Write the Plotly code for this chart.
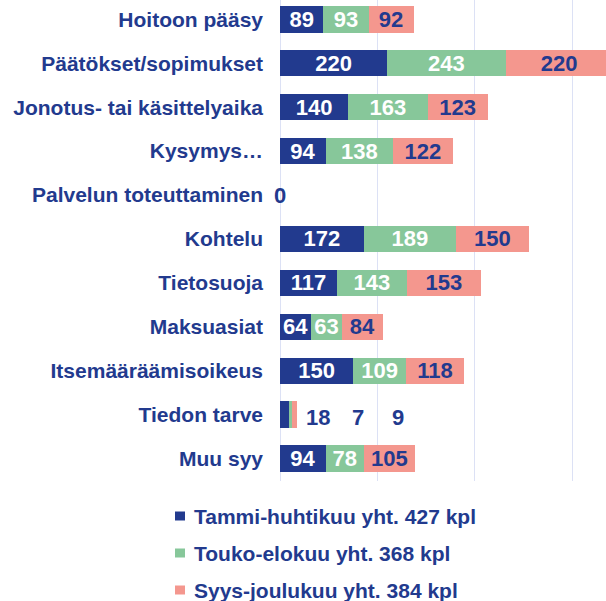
import plotly.graph_objects as go

categories = ["Hoitoon pääsy", "Päätökset/sopimukset", "Jonotus- tai käsittelyaika",
              "Kysymys…", "Palvelun toteuttaminen", "Kohtelu", "Tietosuoja",
              "Maksuasiat", "Itsemääräämisoikeus", "Tiedon tarve", "Muu syy"]
tammi_huhti = [89, 220, 140, 94, 0, 172, 117, 64, 150, 18, 94]
touko_elo = [93, 243, 163, 138, 0, 189, 143, 63, 109, 7, 78]
syys_joulu = [92, 220, 123, 122, 0, 150, 153, 84, 118, 9, 105]
series_names = ["Tammi-huhtikuu yht. 427 kpl", "Touko-elokuu yht. 368 kpl",
                "Syys-joulukuu yht. 384 kpl"]

NAVY = "#223A8E"
GREEN = "#87C79A"
SALMON = "#F4978E"
GRID = "#DCE1F5"
FONT = "Liberation Sans"

W, H = 606, 601
ML, MB = 280, 120
PW, PH = W - ML, H - MB

series = [tammi_huhti, touko_elo, syys_joulu]
colors = [NAVY, GREEN, SALMON]
text_colors = ["white", "white", NAVY]

totals = [sum(v) for v in zip(*series)]
SMALL = 50  # rows with tiny totals get labels outside the bars

fig = go.Figure()
for name, vals, col, tcol in zip(series_names, series, colors, text_colors):
    txt = [str(v) if t >= SMALL else "" for v, t in zip(vals, totals)]
    fig.add_trace(go.Bar(
        y=categories, x=vals, name=name, orientation="h",
        marker=dict(color=col, line=dict(width=0)),
        text=txt, textposition="inside", insidetextanchor="middle",
        constraintext="none", textangle=0,
        insidetextfont=dict(family=FONT, size=22, color=tcol, weight="bold"),
        showlegend=False,
    ))

annotations = []
for i, (cat, tot) in enumerate(zip(categories, totals)):
    if tot >= SMALL:
        continue
    if tot == 0:
        annotations.append(dict(x=0, y=cat, text="0", showarrow=False,
                                xanchor="center", yanchor="middle",
                                font=dict(family=FONT, size=22, color=NAVY, weight="bold")))
    else:
        for k, vals in enumerate(series):
            annotations.append(dict(x=tot, y=cat, text=str(vals[i]), showarrow=False,
                                    xanchor="center", yanchor="middle",
                                    xshift=21 + 40 * k, yshift=-3,
                                    font=dict(family=FONT, size=22, color=NAVY, weight="bold")))

# legend below the plot (keys + labels)
def px2x(px):
    return (px - ML) / PW

def py2y(py):
    return (PH - py) / PH

shapes = []
LEG_X, LEG_Y0, LEG_DY = 180, 516, 37
for k, (name, col) in enumerate(zip(series_names, colors)):
    cy = LEG_Y0 + k * LEG_DY
    shapes.append(dict(type="rect", xref="paper", yref="paper",
                       x0=px2x(LEG_X - 5), x1=px2x(LEG_X + 5),
                       y0=py2y(cy + 4.5), y1=py2y(cy - 4.5),
                       fillcolor=col, line=dict(width=0)))
    annotations.append(dict(xref="paper", yref="paper", x=px2x(LEG_X + 12), y=py2y(cy),
                            xanchor="left", yanchor="middle", showarrow=False,
                            text=name,
                            font=dict(family=FONT, size=21, color=NAVY, weight="bold")))

fig.update_layout(
    width=W, height=H,
    margin=dict(l=ML, r=0, t=0, b=MB, autoexpand=False),
    barmode="stack", bargap=0.4,
    plot_bgcolor="white", paper_bgcolor="white",
    font=dict(family=FONT, color=NAVY),
    showlegend=False,
    annotations=annotations,
    shapes=shapes,
)
fig.update_xaxes(range=[0, 669], dtick=200, tick0=0, showgrid=True, gridcolor=GRID,
                 gridwidth=1, zeroline=True, zerolinecolor=GRID, zerolinewidth=1,
                 showticklabels=False, showline=False, automargin=False)
fig.update_yaxes(categoryorder="array", categoryarray=categories,
                 range=[10.51, -0.44], showgrid=False, zeroline=False, showline=False,
                 ticks="", ticklabelstandoff=16, automargin=False,
                 tickfont=dict(family=FONT, size=21, color=NAVY, weight="bold"))

fig.write_html("out.html", config={"displayModeBar": False},
               post_script="document.body.style.margin='0';document.body.style.padding='0';")
